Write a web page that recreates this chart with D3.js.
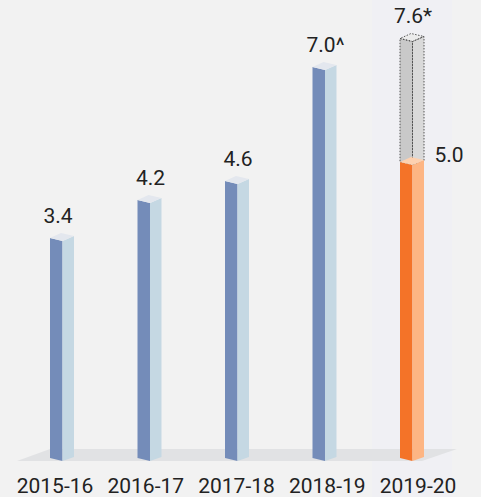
<!DOCTYPE html>
<html><head><meta charset="utf-8">
<script src="https://cdn.jsdelivr.net/npm/d3@7"></script>
<style>body{margin:0;background:#f2f2f2;}svg{display:block;}</style>
</head><body>
<svg id="c" width="481" height="497"></svg>
<script>
const categories = ["2015-16","2016-17","2017-18","2018-19","2019-20"];
const values = [3.4, 4.2, 4.6, 7.0, 5.0];
const valueLabels = ["3.4","4.2","4.6","7.0^","5.0"];
const targetValue = 7.6;
const targetLabel = "7.6*";
const highlight = "2019-20";

const svg = d3.select("#c");
const W = 481, H = 497;
svg.append("rect").attr("width", W).attr("height", H).attr("fill", "#f2f2f2");

const floorY = 458;
const x = d3.scalePoint().domain(categories).range([62, 412]);
const xLab = d3.scalePoint().domain(categories).range([55, 418]);
const y = d3.scaleLinear().domain([0, 8]).range([399.5, 19.5]);

// subtle column bands
svg.selectAll("rect.band").data(categories).join("rect")
  .attr("x", d => x(d) - 40).attr("y", 0).attr("width", 80).attr("height", H)
  .attr("fill", (d,i) => i === 4 ? "#f0f0f4" : "#f2f2f2");

// floor
svg.append("path")
  .attr("d", `M17,461 L50,449 L457,449 L422,461 Z`)
  .attr("fill", "#e1e2e4");

const wl = 12.5, wr = 11.5;
function box(g, cx, top, bottom, colors, dotted) {
  const xL = cx - wl + 0.5, xF = cx + 0.5, xR = cx + wr + 0.5;
  const left = `M${xL},${top} L${xF},${top+3} L${xF},${bottom+3} L${xL},${bottom} Z`;
  const right = `M${xF},${top+3} L${xR},${top-2} L${xR},${bottom-1} L${xF},${bottom+3} Z`;
  const topF = `M${xL},${top} L${xF},${top+3} L${xR},${top-2} L${xF-1.5},${top-5} Z`;
  g.append("path").attr("d", left).attr("fill", colors[0]);
  g.append("path").attr("d", right).attr("fill", colors[1]);
  g.append("path").attr("d", topF).attr("fill", colors[2]);
  if (dotted) {
    const st = {stroke: "#555", "stroke-width": 1, "stroke-dasharray": "1.5,1.5", fill: "none"};
    [left, right, topF].forEach(p => {
      const e = g.append("path").attr("d", p);
      Object.entries(st).forEach(([k,v]) => e.attr(k, v));
    });
  }
}

const g = svg.append("g");
categories.forEach((c, i) => {
  const top = y(values[i]);
  const isH = c === highlight;
  if (isH) {
    box(g, x(c), y(targetValue), top, ["#c9c9c9", "#d9d9d9", "#ebebeb"], true);
    box(g, x(c), top, floorY, ["#f47328", "#fdb583", "#fdd1b0"], false);
  } else {
    box(g, x(c), top, floorY, ["#748cb9", "#c5d8e3", "#e3e7ee"], false);
  }
});

// value labels
const fontFam = "Roboto, 'Noto Sans', sans-serif";
svg.selectAll("text.val").data(categories).join("text")
  .attr("class", "val")
  .attr("x", (d,i) => d === highlight ? x(d) + 37 : x(d) + (i === 0 ? -4 : 1))
  .attr("y", (d,i) => d === highlight ? y(values[i]) : y(values[i]) - 15)
  .attr("text-anchor", "middle")
  .attr("font-family", fontFam).attr("font-size", 21).attr("fill", "#222")
  .text((d,i) => valueLabels[i]);

svg.append("text")
  .attr("x", x(highlight) + 1).attr("y", y(targetValue) - 16)
  .attr("text-anchor", "middle")
  .attr("font-family", fontFam).attr("font-size", 21).attr("fill", "#222")
  .text(targetLabel);

// category labels
svg.selectAll("text.cat").data(categories).join("text")
  .attr("class", "cat")
  .attr("x", d => xLab(d)).attr("y", 493)
  .attr("text-anchor", "middle")
  .attr("font-family", fontFam).attr("font-size", 21).attr("fill", "#222")
  .text(d => d);
</script>
</body></html>
